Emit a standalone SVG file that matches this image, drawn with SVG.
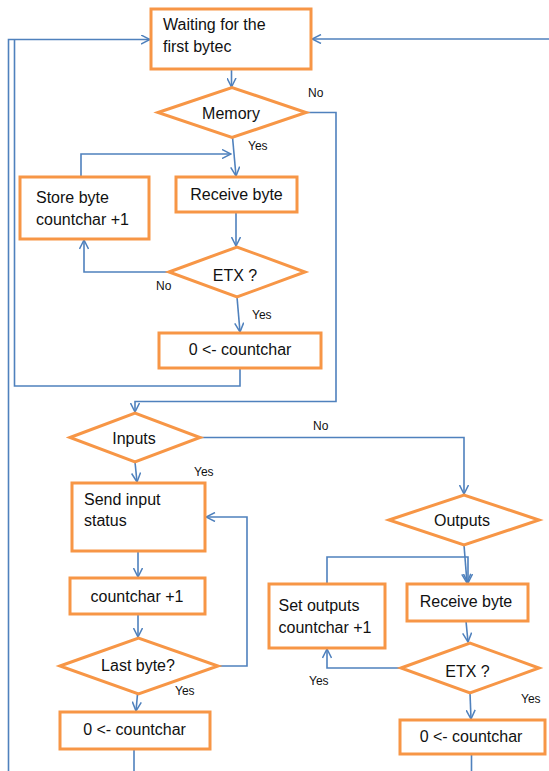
<svg xmlns="http://www.w3.org/2000/svg" width="549" height="771" viewBox="0 0 549 771">
  <defs>
    <marker id="arrow" viewBox="0 0 10 10" refX="9.5" refY="5" markerWidth="10" markerHeight="10" markerUnits="userSpaceOnUse" orient="auto">
      <path d="M0.5,0.5 L9.5,5 L0.5,9.5" fill="none" stroke="#4F81BD" stroke-width="1.5"/>
    </marker>
  </defs>
  <style>
    .box { fill: #ffffff; stroke: #F79646; stroke-width: 3; }
    .dia { fill: #ffffff; stroke: #F79646; stroke-width: 3; stroke-linejoin: miter; }
    .t { font-family: "Liberation Sans", Arial, sans-serif; font-size: 16px; fill: #111111; }
    .c { text-anchor: middle; }
    .lbl { font-family: "Liberation Sans", Arial, sans-serif; font-size: 12px; fill: #111111; }
    .wire { fill: none; stroke: #4F81BD; stroke-width: 1.6; }
    .arr { marker-end: url(#arrow); }
  </style>

  <!-- connectors -->
  <g id="connectors">
    <path class="wire arr" d="M8.5,771 V39.5 H150"/>
    <path class="wire" d="M240,368 V386 H14.5 V40"/>
    <path class="wire arr" d="M549,39 H312"/>
    <path class="wire arr" d="M231.5,69 V87"/>
    <path class="wire arr" d="M306,112.5 H336 V401.5 H135 V412"/>
    <path class="wire arr" d="M232.5,137 L236,176"/>
    <path class="wire arr" d="M81,177 V154 H231"/>
    <path class="wire arr" d="M236,212 V246"/>
    <path class="wire arr" d="M169,272 H84 V240"/>
    <path class="wire arr" d="M237,297 L240,332"/>
    <path class="wire arr" d="M200,437.5 H464 V494"/>
    <path class="wire arr" d="M135,462 L137,482"/>
    <path class="wire arr" d="M138,551 L138,577"/>
    <path class="wire arr" d="M138,614 V637"/>
    <path class="wire arr" d="M218,666 H247 V517 H206"/>
    <path class="wire arr" d="M137.5,694 L136,711"/>
    <path class="wire" d="M134,749 V771"/>
    <path class="wire arr" d="M464,545 L467,583"/>
    <path class="wire arr" d="M327,584 V557 H468 V583"/>
    <path class="wire arr" d="M466,621 L468,642"/>
    <path class="wire arr" d="M401,668 H327 V649"/>
    <path class="wire arr" d="M470,693 L471,719"/>
    <path class="wire" d="M471.5,754 V771"/>
  </g>

  <!-- edge labels -->
  <g id="labels">
    <text class="lbl" x="308" y="97">No</text>
    <text class="lbl" x="248" y="150">Yes</text>
    <text class="lbl" x="156" y="290">No</text>
    <text class="lbl" x="252" y="319">Yes</text>
    <text class="lbl" x="313" y="430">No</text>
    <text class="lbl" x="194" y="476">Yes</text>
    <text class="lbl" x="175" y="695">Yes</text>
    <text class="lbl" x="309" y="685">Yes</text>
    <text class="lbl" x="521" y="703">Yes</text>
  </g>

  <!-- nodes -->
  <g id="wait-first">
    <rect class="box" x="151" y="9" width="160" height="60"/>
    <text class="t" x="163" y="30">Waiting for the</text>
    <text class="t" x="163" y="52">first bytec</text>
  </g>
  <g id="memory">
    <polygon class="dia" points="158,112.5 232,87.5 306,112.5 232,137.5"/>
    <text class="t c" x="231" y="119">Memory</text>
  </g>
  <g id="store-byte">
    <rect class="box" x="20" y="177" width="129" height="62"/>
    <text class="t" x="36" y="203">Store byte</text>
    <text class="t" x="36" y="225">countchar +1</text>
  </g>
  <g id="receive-byte-1">
    <rect class="box" x="176" y="177" width="121" height="35"/>
    <text class="t c" x="236.5" y="199.5">Receive byte</text>
  </g>
  <g id="etx-1">
    <polygon class="dia" points="169,272 237,247 305,272 237,297"/>
    <text class="t c" x="235" y="280.5">ETX ?</text>
  </g>
  <g id="reset-1">
    <rect class="box" x="159" y="333" width="162" height="35"/>
    <text class="t c" x="240" y="355">0 &lt;- countchar</text>
  </g>
  <g id="inputs">
    <polygon class="dia" points="70,437.5 135,413 200,437.5 135,462"/>
    <text class="t c" x="134" y="443.5">Inputs</text>
  </g>
  <g id="send-input">
    <rect class="box" x="72" y="483" width="133" height="68"/>
    <text class="t" x="84" y="505">Send input</text>
    <text class="t" x="84" y="526">status</text>
  </g>
  <g id="count-inc">
    <rect class="box" x="70" y="578" width="135" height="36"/>
    <text class="t c" x="137" y="601.5">countchar +1</text>
  </g>
  <g id="last-byte">
    <polygon class="dia" points="60,666 138.5,638 218,666 138.5,694"/>
    <text class="t c" x="138" y="671">Last byte?</text>
  </g>
  <g id="reset-2">
    <rect class="box" x="60" y="712" width="150" height="37"/>
    <text class="t c" x="134.5" y="735">0 &lt;- countchar</text>
  </g>
  <g id="outputs">
    <polygon class="dia" points="389,520 464,495 539,520 464,545"/>
    <text class="t c" x="462" y="526">Outputs</text>
  </g>
  <g id="set-outputs">
    <rect class="box" x="269" y="584" width="116" height="64"/>
    <text class="t" x="278.5" y="611">Set outputs</text>
    <text class="t" x="278.5" y="633">countchar +1</text>
  </g>
  <g id="receive-byte-2">
    <rect class="box" x="407" y="584" width="121" height="37"/>
    <text class="t c" x="466" y="607">Receive byte</text>
  </g>
  <g id="etx-2">
    <polygon class="dia" points="401,668 470,643 539,668 470,693"/>
    <text class="t c" x="467.5" y="677">ETX ?</text>
  </g>
  <g id="reset-3">
    <rect class="box" x="400" y="720" width="145" height="34"/>
    <text class="t c" x="471" y="742">0 &lt;- countchar</text>
  </g>
</svg>
